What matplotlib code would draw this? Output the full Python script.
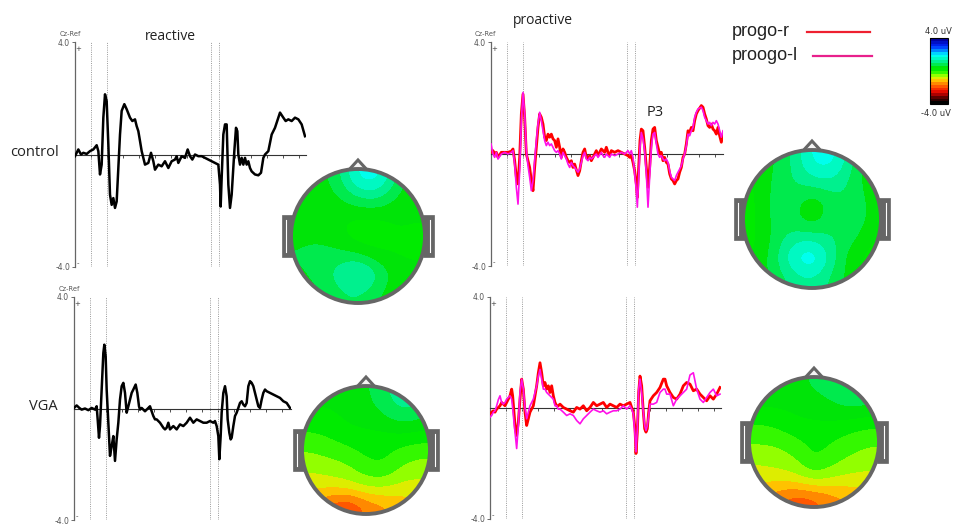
import numpy as np
import matplotlib
matplotlib.use('Agg')
import matplotlib.pyplot as plt
from matplotlib.colors import LinearSegmentedColormap, Normalize
from matplotlib.patches import Circle, Polygon, Rectangle
from matplotlib.cm import ScalarMappable

W, H = 954, 525

# ---- ERP data (time in ms, amplitude in uV) ----
t_ctrl_react = [0, 10, 18, 25, 35, 45, 55, 65, 70, 75, 80, 85, 90, 95, 100, 105, 110, 115, 120, 125,
                130, 135, 140, 148, 155, 165, 172, 180, 185, 190, 195, 200, 205, 210, 220, 228, 235, 240,
                250, 260, 270, 280, 290, 300, 305, 310, 320, 330, 338, 345, 352, 360, 370, 380, 390, 400,
                410, 420, 430, 435, 437, 440, 445, 450, 455, 460, 465, 470, 478, 483, 487, 490, 495, 500,
                505, 510, 515, 520, 525, 530, 540, 550, 558, 565, 570, 580, 590, 595, 600, 610, 615, 625,
                632, 640, 650, 660, 670, 680, 690]
v_ctrl_react = [-0.06, 0.18, 0.0, 0.06, 0.02, 0.12, 0.18, 0.33, 0.12, -0.71, -0.36, 1.31, 2.14, 1.90, 0.36,
                -1.43, -1.79, -1.55, -1.90, -1.67, -0.48, 0.71, 1.55, 1.79, 1.61, 1.31, 1.19, 1.25, 1.01,
                0.83, 0.48, 0.12, -0.12, -0.36, -0.30, 0.06, -0.24, -0.54, -0.36, -0.42, -0.24, -0.48,
                -0.24, -0.18, -0.06, -0.30, -0.06, -0.12, 0.18, -0.06, -0.18, 0.0, -0.06, -0.06, -0.12,
                -0.18, -0.24, -0.30, -0.36, -1.07, -1.85, -0.83, 0.71, 1.07, 1.07, -1.07, -1.90, -1.43,
                0.12, 0.95, 0.83, 0.0, -0.36, -0.12, -0.36, -0.12, -0.36, -0.24, -0.48, -0.60, -0.71,
                -0.74, -0.65, -0.12, 0.0, 0.12, 0.71, 0.83, 0.95, 1.31, 1.49, 1.31, 1.19, 1.25, 1.19,
                1.31, 1.25, 1.07, 0.65]

t_ctrl_pro = [0, 6, 11, 16, 21, 31, 41, 51, 61, 66, 71, 76, 81, 86, 91, 96, 101, 106, 111, 116, 121, 126,
              131, 136, 141, 146, 151, 156, 161, 166, 171, 176, 181, 186, 191, 196, 201, 206, 211, 216,
              221, 226, 231, 236, 241, 246, 251, 261, 266, 271, 276, 281, 286, 291, 296, 301, 311, 316,
              321, 331, 336, 341, 346, 351, 356, 361, 371, 381, 391, 401, 411, 416, 421, 426, 431, 436,
              439, 443, 447, 451, 456, 461, 466, 471, 476, 481, 486, 491, 496, 501, 506, 511, 516, 521,
              526, 531, 536, 541, 546, 551, 556, 561, 566, 571, 576, 581, 586, 591, 596, 601, 606, 611,
              616, 621, 631, 636, 641, 646, 651, 656, 661, 666, 671, 676, 681, 686, 691, 696]
v_ctrl_pro_r = [0.06, 0.12, 0.0, 0.06, -0.12, 0.06, 0.06, 0.06, 0.10, 0.18, -0.24, -0.83, -1.07, -0.12,
                1.43, 2.14, 1.31, 0.0, -0.24, -0.48, -0.95, -1.31, -0.48, 0.24, 0.95, 1.43, 1.31, 1.07,
                0.60, 0.48, 0.71, 0.60, 0.71, 0.54, 0.48, 0.24, 0.54, 0.24, -0.12, 0.18, 0.06, -0.12,
                -0.24, -0.30, -0.24, -0.48, -0.36, -0.77, -0.60, -0.24, 0.06, 0.18, -0.12, -0.18, -0.06,
                -0.24, 0.0, 0.12, -0.06, 0.18, 0.12, 0.06, 0.24, 0.06, -0.06, 0.12, 0.06, 0.12, 0.06,
                0.0, -0.06, -0.12, -0.06, -0.30, -0.60, -1.07, -1.55, -0.48, 0.48, 0.89, 0.83, 0.24,
                -0.48, -1.19, -0.48, 0.48, 0.89, 0.95, 0.48, 0.24, 0.0, 0.06, -0.24, -0.12, -0.30, -0.36,
                -0.71, -0.89, -0.95, -1.07, -0.95, -0.89, -0.65, -0.48, -0.12, 0.0, 0.36, 0.83, 0.77,
                0.95, 0.83, 1.19, 1.43, 1.55, 1.73, 1.67, 1.43, 1.25, 1.01, 0.95, 1.07, 0.89, 0.83, 0.71,
                0.95, 0.65, 0.42, 0.71]
v_ctrl_pro_l = [0.36, 0.0, -0.12, 0.06, -0.18, 0.0, 0.06, 0.0, 0.06, 0.12, -0.36, -1.19, -1.79, -0.60,
                1.19, 2.20, 1.43, 0.12, -0.42, -0.83, -1.31, -0.95, -0.24, 0.48, 1.07, 1.49, 1.19, 0.83,
                0.48, 0.30, 0.42, 0.30, 0.36, 0.24, 0.12, 0.06, 0.12, 0.0, -0.18, 0.06, -0.06, -0.18,
                -0.36, -0.48, -0.30, -0.42, -0.48, -0.65, -0.54, -0.30, -0.06, 0.06, -0.18, -0.24, -0.12,
                -0.18, -0.06, 0.0, -0.12, 0.06, -0.06, -0.12, 0.0, -0.06, -0.12, 0.0, -0.06, 0.0, 0.06,
                0.0, 0.12, 0.0, 0.12, -0.12, -0.71, -1.31, -1.90, -0.83, 0.24, 0.77, 0.54, 0.12, -0.71,
                -1.90, -0.83, 0.24, 0.71, 0.77, 0.36, 0.0, -0.12, -0.06, -0.18, -0.24, -0.18, -0.30,
                -0.60, -0.83, -0.89, -0.95, -0.77, -0.65, -0.54, -0.42, -0.18, 0.0, 0.30, 0.71, 0.65,
                0.83, 0.95, 1.31, 1.49, 1.61, 1.67, 1.55, 1.31, 1.19, 1.07, 1.13, 1.01, 1.13, 1.07, 1.19,
                1.07, 0.83, 0.60, 0.83]

t_vga_react = [0, 8, 16, 23, 33, 43, 53, 63, 68, 71, 75, 78, 83, 88, 91, 95, 98, 103, 108, 113, 118, 123,
               128, 133, 138, 143, 148, 153, 158, 163, 168, 173, 178, 185, 190, 195, 198, 203, 213, 223,
               228, 233, 238, 243, 248, 258, 268, 273, 278, 283, 288, 298, 308, 318, 328, 338, 348, 358,
               368, 378, 388, 398, 408, 418, 423, 428, 433, 436, 440, 443, 448, 453, 458, 461, 466, 470,
               473, 478, 483, 488, 493, 498, 503, 508, 513, 518, 523, 528, 533, 538, 543, 548, 553, 558,
               563, 568, 573, 578, 588, 598, 608, 618, 628, 638, 648]
v_vga_react = [0.02, 0.11, 0.02, -0.04, 0.0, -0.06, 0.02, -0.04, 0.08, -0.39, -1.05, -0.63, 0.68, 1.99,
               2.29, 1.87, 0.68, -0.51, -1.70, -1.35, -0.99, -1.88, -1.11, -0.51, 0.32, 0.80, 0.92, 0.56,
               -0.15, 0.08, 0.32, 0.56, 0.68, 0.86, 0.56, 0.08, -0.04, 0.02, -0.10, 0.02, 0.08, -0.10,
               -0.27, -0.39, -0.39, -0.51, -0.69, -0.75, -0.69, -0.51, -0.75, -0.63, -0.75, -0.57, -0.63,
               -0.51, -0.33, -0.51, -0.39, -0.45, -0.51, -0.51, -0.45, -0.51, -0.45, -0.63, -0.99, -1.82,
               -0.99, -0.15, 0.56, 0.80, 0.44, -0.39, -0.87, -1.11, -1.05, -0.63, -0.27, -0.15, 0.02,
               0.20, 0.26, 0.14, 0.08, 0.20, 0.80, 0.98, 0.92, 0.80, 0.56, 0.32, 0.08, 0.02, 0.32, 0.56,
               0.68, 0.62, 0.56, 0.50, 0.44, 0.38, 0.26, 0.20, 0.02]

t_vga_pro = [0, 5, 10, 15, 20, 25, 30, 35, 40, 45, 50, 55, 60, 65, 68, 72, 76, 80, 85, 90, 95, 100, 105,
             110, 115, 120, 130, 135, 140, 145, 150, 155, 160, 165, 170, 175, 180, 185, 190, 195, 200, 205,
             210, 220, 230, 240, 250, 260, 270, 280, 290, 300, 310, 320, 330, 340, 350, 360, 370, 380, 390,
             400, 410, 420, 425, 430, 435, 438, 442, 446, 450, 455, 460, 464, 468, 472, 476, 480, 490, 500,
             510, 520, 525, 530, 540, 550, 560, 570, 580, 590, 600, 610, 620, 630, 640, 650, 660, 670, 680,
             690]
v_vga_pro_r = [-0.21, -0.15, -0.10, -0.15, -0.04, 0.02, 0.08, 0.20, 0.14, 0.08, 0.20, 0.32, 0.44, 0.68,
               0.44, -0.15, -0.75, -0.99, -0.51, 0.32, 1.04, 0.68, -0.15, -0.63, -0.39, -0.15, 0.08, 0.44,
               0.80, 1.27, 1.63, 1.27, 0.80, 0.92, 0.68, 0.80, 0.56, 0.80, 0.44, 0.20, 0.08, 0.08, 0.14,
               0.02, -0.04, -0.10, -0.15, 0.02, -0.04, 0.08, -0.10, 0.02, 0.20, 0.08, 0.14, 0.20, 0.02,
               0.14, 0.08, 0.02, 0.14, 0.08, 0.14, 0.20, 0.02, -0.15, -0.75, -1.64, -0.87, 0.56, 1.15,
               0.80, -0.15, -0.75, -0.87, -0.75, -0.15, 0.26, 0.44, 0.56, 0.74, 1.04, 1.04, 0.80, 0.56,
               0.38, 0.32, 0.50, 0.80, 0.92, 0.86, 0.62, 0.68, 0.50, 0.38, 0.26, 0.44, 0.32, 0.50, 0.74]
v_vga_pro_l = [-0.33, -0.27, -0.15, -0.10, 0.08, 0.30, 0.44, 0.20, 0.14, 0.20, 0.32, 0.38, 0.44, 0.32,
               0.0, -0.51, -0.99, -1.46, -0.63, 0.56, 1.04, 0.68, 0.0, -0.39, -0.15, 0.08, 0.32, 0.56,
               0.80, 1.15, 1.39, 1.04, 0.68, 0.68, 0.56, 0.50, 0.44, 0.38, 0.32, 0.08, 0.08, -0.04, -0.04,
               -0.15, -0.27, -0.21, -0.27, -0.45, -0.57, -0.39, -0.27, -0.15, -0.04, -0.10, -0.15, -0.10,
               -0.21, -0.15, -0.10, -0.10, -0.04, 0.08, -0.04, 0.08, -0.04, -0.21, -0.99, -1.58, -0.75,
               0.68, 1.04, 0.56, -0.15, -0.63, -0.81, -0.63, -0.27, 0.14, 0.14, 0.20, 0.56, 0.68, 0.68,
               0.50, 0.50, 0.08, 0.32, 0.44, 0.56, 0.68, 1.19, 1.27, 0.68, 0.32, 0.20, 0.38, 0.56, 0.68,
               0.44, 0.50]

# cue / target markers (ms)
markers = [47, 97, 407, 433]

# ---- topographic maps (uV, 7x7 grid, front row first) ----
topo_ctrl_react = [[0.4, 0.5, 0.9, 1.8, 1.9, 1.0, 0.4],
                   [0.4, 0.5, 0.6, 1.0, 1.1, 0.6, 0.4],
                   [0.5, 0.5, 0.4, 0.3, 0.3, 0.4, 0.4],
                   [0.6, 0.6, 0.4, 0.1, 0.1, 0.3, 0.2],
                   [0.7, 0.8, 0.8, 0.7, 0.4, 0.3, 0.3],
                   [0.6, 0.8, 1.2, 1.8, 1.1, 0.5, 0.4],
                   [0.5, 0.6, 0.9, 1.0, 0.7, 0.4, 0.4]]
topo_ctrl_pro = [[0.4, 0.6, 1.0, 1.8, 1.9, 1.1, 0.4],
                 [0.3, 0.7, 1.0, 1.3, 1.4, 0.9, 0.4],
                 [0.2, 0.8, 0.9, 0.4, 0.8, 1.0, 0.5],
                 [0.2, 0.8, 0.8, 0.3, 0.9, 1.1, 0.5],
                 [0.2, 0.7, 1.2, 1.3, 1.0, 0.8, 0.3],
                 [0.3, 0.8, 1.7, 2.2, 1.2, 0.4, 0.2],
                 [0.4, 0.7, 1.1, 1.3, 0.9, 0.5, 0.3]]
topo_vga_react = [[0.4, 0.4, 0.5, 0.6, 0.9, 1.3, 1.1],
                  [0.3, 0.3, 0.4, 0.5, 0.7, 1.0, 0.8],
                  [0.0, 0.1, 0.3, 0.3, 0.3, 0.4, 0.3],
                  [-0.3, -0.2, -0.1, 0.1, 0.1, -0.1, -0.2],
                  [-0.6, -0.5, -0.4, -0.1, 0.0, -0.4, -0.5],
                  [-0.9, -0.9, -0.8, -0.6, -0.6, -0.8, -0.8],
                  [-1.4, -1.8, -2.1, -1.6, -1.4, -1.2, -1.1]]
topo_vga_pro = [[0.5, 0.5, 0.6, 0.7, 0.9, 1.1, 0.9],
                [0.4, 0.4, 0.4, 0.5, 0.6, 0.8, 0.7],
                [0.0, 0.1, 0.3, 0.3, 0.3, 0.2, 0.1],
                [-0.3, -0.3, -0.1, 0.1, 0.0, -0.2, -0.3],
                [-0.6, -0.5, -0.4, 0.1, -0.2, -0.4, -0.5],
                [-0.9, -0.9, -0.8, -0.5, -0.7, -0.8, -0.8],
                [-1.3, -1.6, -1.9, -1.8, -1.5, -1.3, -1.2]]

cmap = LinearSegmentedColormap.from_list('topo', [
    (0.0, '#000000'), (0.08, '#500000'), (0.16, '#e00000'), (0.24, '#ff4000'),
    (0.31, '#ff9000'), (0.37, '#ffe000'), (0.42, '#b0ff00'), (0.46, '#60ff00'),
    (0.50, '#00f000'), (0.56, '#00e400'), (0.64, '#00ee80'), (0.72, '#00ffe0'),
    (0.76, '#00ffff'), (0.82, '#0090ff'), (0.89, '#0028ff'), (1.0, '#0000a0')], N=24)
norm = Normalize(-4, 4)

fig = plt.figure(figsize=(W / 100, H / 100), dpi=100)
fig.patch.set_facecolor('white')


def px_axes(x, y, w, h):
    return fig.add_axes([x / W, 1 - (y + h) / H, w / W, h / H])


def wave_axes(x, ytop, ybot, tmax):
    ax = px_axes(x, ytop, tmax / 3, ybot - ytop)
    ax.set_facecolor('none')
    ax.set_xlim(0, tmax)
    ax.set_ylim(-4, 4)
    for s in ['top', 'right']:
        ax.spines[s].set_visible(False)
    ax.spines['left'].set_color('#666666')
    ax.spines['left'].set_linewidth(0.9)
    ax.spines['bottom'].set_position(('data', 0))
    ax.spines['bottom'].set_color('#333333')
    ax.spines['bottom'].set_linewidth(0.8)
    ax.set_xticks(np.arange(48, tmax, 48))
    ax.tick_params(axis='x', direction='out', length=2, width=0.6, colors='#333333', labelbottom=False)
    ax.set_yticks([-4, 4])
    ax.set_yticklabels(['-4.0', '4.0'])
    ax.tick_params(axis='y', direction='out', length=2.5, width=0.6, colors='#555555', labelsize=5.5, pad=1)
    for m in markers:
        ax.axvline(m, color='#999999', lw=0.7, ls=(0, (1, 1.3)))
    ax.text(10, 3.75, '+', fontsize=5, color='#444444', ha='center', va='center')
    ax.text(10, -3.85, '-', fontsize=5, color='#444444', ha='center', va='center')
    return ax


ax1 = wave_axes(75, 42, 267, 693)
ax1.plot(t_ctrl_react, v_ctrl_react, color='black', lw=1.8, zorder=3)

ax2 = wave_axes(491, 42, 266, 696)
ax2.plot(t_ctrl_pro, v_ctrl_pro_r, color='#ff0000', lw=2.0, zorder=3)
ax2.plot(t_ctrl_pro, v_ctrl_pro_l, color='#ff10e8', lw=1.2, zorder=4)

ax3 = wave_axes(74, 297, 520, 651)
ax3.plot(t_vga_react, v_vga_react, color='black', lw=1.8, zorder=3)

ax4 = wave_axes(490, 297, 519, 693)
ax4.plot(t_vga_pro, v_vga_pro_r, color='#ff0000', lw=2.0, zorder=3)
ax4.plot(t_vga_pro, v_vga_pro_l, color='#ff10e8', lw=1.2, zorder=4)

# overlay in pixel coordinates for heads and labels
ov = fig.add_axes([0, 0, 1, 1])
ov.patch.set_visible(False)
ov.axis('off')

gray = '#666666'


def draw_head(cx, cy, r, grid):
    im = ov.imshow(np.array(grid), cmap=cmap, norm=norm, extent=(cx - r, cx + r, cy + r, cy - r),
                   origin='upper', interpolation='bicubic', interpolation_stage='data',
                   aspect='auto', zorder=2)
    clip = Circle((cx, cy), r, transform=ov.transData)
    im.set_clip_path(clip)
    for side in (-1, 1):
        ex = cx - r - 9 if side < 0 else cx + r - 2
        ov.add_patch(Rectangle((ex, cy - 21), 11, 42, facecolor=gray, edgecolor=gray, lw=0.5, zorder=1))
        lx = cx - r - 5 if side < 0 else cx + r + 5
        ov.plot([lx, lx], [cy - 16, cy + 16], color='white', lw=0.8, zorder=1.5)
    ov.add_patch(Polygon([(cx - 11, cy - r + 3), (cx, cy - r - 9), (cx + 11, cy - r + 3)],
                         closed=True, facecolor='#f4f4f4', edgecolor=gray, lw=2.2, zorder=1))
    ov.add_patch(Circle((cx, cy), r, facecolor='none', edgecolor=gray, lw=2.8, zorder=4))


draw_head(358, 236, 67, topo_ctrl_react)
draw_head(812, 219, 69, topo_ctrl_pro)
draw_head(366, 450, 64, topo_vga_react)
draw_head(814, 442, 65, topo_vga_pro)

ov.set_xlim(0, W)
ov.set_ylim(H, 0)

lab = dict(family='Open Sans', color='#222222')
ov.text(170, 36, 'reactive', fontsize=10, ha='center', va='center', **lab)
ov.text(543, 20, 'proactive', fontsize=10, ha='center', va='center', **lab)
ov.text(10, 153, 'control', fontsize=10.5, ha='left', va='center', **lab)
ov.text(29, 406, 'VGA', fontsize=10.5, ha='left', va='center', **lab)
ov.text(655, 112, 'P3', fontsize=10.5, ha='center', va='center', **lab)

small = dict(fontsize=4.8, color='#555555', ha='center', va='center', family='DejaVu Sans')
ov.text(70, 34, 'Cz-Ref', **small)
ov.text(485, 34, 'Cz-Ref', **small)
ov.text(69, 289, 'Cz-Ref', **small)

# legend
ov.text(732, 32, 'progo-r', fontsize=13, ha='left', va='center', family='Liberation Sans', color='#222222')
ov.text(732, 55, 'proogo-l', fontsize=13, ha='left', va='center', family='Liberation Sans', color='#222222')
ov.plot([807, 870], [32, 32], color='#ee2030', lw=1.6)
ov.plot([813, 872], [56, 56], color='#e8208c', lw=1.6)

# colour scale
cax = px_axes(930, 38, 18, 66)
cb = fig.colorbar(ScalarMappable(norm=norm, cmap=cmap), cax=cax)
cb.set_ticks([])
cb.outline.set_linewidth(0.8)
ov.text(925, 31, '4.0 uV', fontsize=6, ha='left', va='center', color='#333333')
ov.text(921, 114, '-4.0 uV', fontsize=6, ha='left', va='center', color='#333333')

fig.savefig('out.png', dpi=100)
